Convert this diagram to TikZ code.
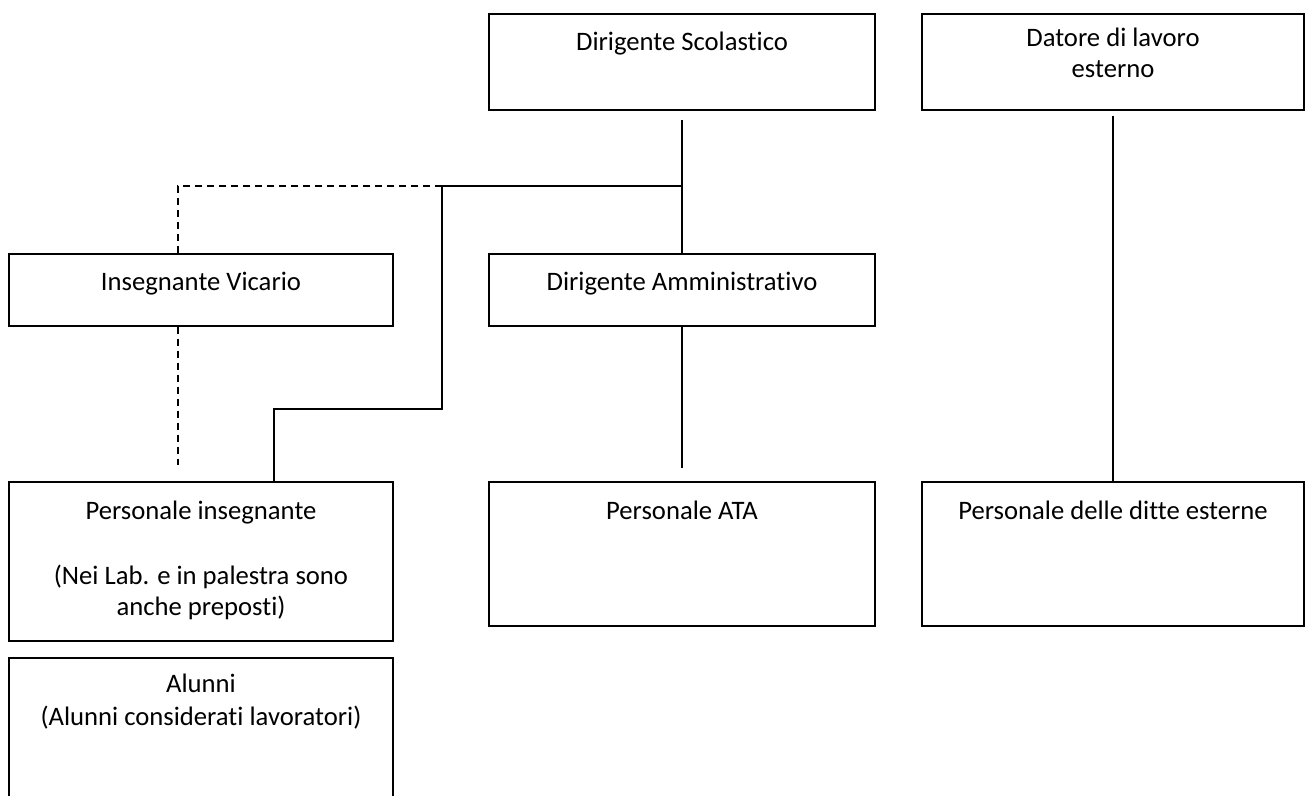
\documentclass[tikz,border=0pt]{standalone}
\usepackage{fontspec}
\setmainfont{Carlito}[Ligatures=NoCommon]
\usetikzlibrary{fit}
\begin{document}
\begin{tikzpicture}[x=0.75pt,y=-0.75pt,
  box/.style={draw, line width=1.1pt, inner sep=0pt, rectangle},
  lbl/.style={anchor=base, inner sep=0pt, font=\fontsize{20}{24}\selectfont},
  conn/.style={line width=1.1pt},
  dconn/.style={line width=1.1pt, dash pattern=on 5.25pt off 3.75pt}]
\useasboundingbox (0,0) rectangle (1308,795);
% boxes
\node[box, fit={(489,14)(875,110)}] (ds) {};
\node[box, fit={(922,14)(1304,110)}] (dat) {};
\node[box, fit={(9,254)(393,326)}] (iv) {};
\node[box, fit={(489,254)(875,326)}] (da) {};
\node[box, fit={(9,482)(393,641)}] (pi) {};
\node[box, fit={(9,658)(393,805)}] (al) {};
\node[box, fit={(489,482)(875,626)}] (ata) {};
\node[box, fit={(922,482)(1304,626)}] (dit) {};
% texts
\node[lbl] (tds) at (682,51) {Dirigente Scolastico};
\node[lbl] (tdat1) at (1113,47) {Datore di lavoro};
\node[lbl] (tdat2) at (1113,78) {esterno};
\node[lbl] (tiv) at (201,290) {Insegnante Vicario};
\node[lbl] (tda) at (682,290) {Dirigente Amministrativo};
\node[lbl] (tpi1) at (201,519) {Personale insegnante};
\node[lbl] (tpi2) at (201,584) {(Nei Lab. e in palestra sono};
\node[lbl] (tpi3) at (201,615) {anche preposti)};
\node[lbl] (tal1) at (201,692) {Alunni};
\node[lbl] (tal2) at (201,725) {(Alunni considerati lavoratori)};
\node[lbl] (tata) at (682,519) {Personale ATA};
\node[lbl] (tdit) at (1113,519) {Personale delle ditte esterne};
% connectors
\coordinate (hub) at (682,186);
\coordinate (sp) at (442,186);
\coordinate (kn1) at (442,409);
\coordinate (kn2) at (274,409);
\coordinate (vl) at (178,186);
\draw[conn] ([yshift=-6.75pt]ds.south) -- (da.north);
\draw[conn] (hub) -- (sp) -- (kn1) -- (kn2) -- (kn2 |- pi.north);
\draw[dconn] (sp) -- (vl) -- (vl |- iv.north);
\draw[dconn] (iv.south -| vl) -- ++(0,138);
\draw[conn] (da.south) -- ++(0,141);
\draw[conn] ([yshift=-3.75pt]dat.south) -- (dit.north);
\end{tikzpicture}
\end{document}
